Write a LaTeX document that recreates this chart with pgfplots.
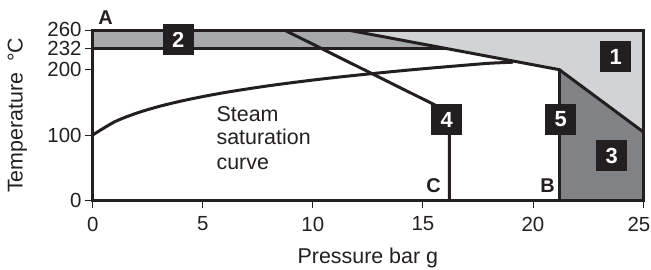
\documentclass[border=0pt]{standalone}
\usepackage{pgfplots}
\pgfplotsset{compat=1.18}
\usepackage{fontspec}
\setmainfont{Liberation Sans}
\definecolor{lg}{HTML}{D1D3D4}
\definecolor{mg}{HTML}{A7A9AC}
\definecolor{dg}{HTML}{808285}
\definecolor{ink}{HTML}{231F20}
\begin{document}
\begin{tikzpicture}[font=\fontsize{21.5}{25}\selectfont]
\useasboundingbox (-92.7bp,-69.7bp) rectangle (558.3bp,200.3bp);
\begin{axis}[
  at={(0,0)}, anchor=south west,
  scale only axis, width=550.3bp, height=169.8bp,
  xmin=0, xmax=25, ymin=0, ymax=260,
  xtick={0,5,10,15,20}, ytick={0,100,200,232},
  extra x ticks={25},
  extra x tick style={xticklabel style={xshift=-4bp}},
  extra y ticks={260},
  extra y tick style={yticklabel style={yshift=1.5bp}},
  tick pos=left, tick align=outside,
  major tick length=8bp,
  every tick/.style={ink, line width=0.8bp},
  axis line style={ink, line width=3bp},
  axis on top,
  clip=false,
  /pgf/number format/assume math mode=true,
  ticklabel style={font=\fontsize{20.5}{24}\selectfont, text=ink},
  xticklabel style={yshift=-5bp},
  yticklabel style={xshift=-2bp, inner ysep=0pt, inner xsep=1bp},
  xlabel={Pressure bar g},
  ylabel={Temperature\enspace°C},
  every axis x label/.style={at={([yshift=-63bp]axis description cs:0.5,0)}, anchor=base, text=ink},
  every axis y label/.style={at={([xshift=-70bp]axis description cs:0,0.5)}, rotate=90, anchor=base, text=ink},
]
% region 1
\addplot[fill=lg, draw=none] coordinates {(11.7,260) (25,260) (25,105) (21.2,200)} -- cycle;
% band 2
\addplot[fill=mg, draw=none] coordinates {(0,232) (0,260) (11.7,260) (16.1,232)} -- cycle;
% region 3
\addplot[fill=dg, draw=none] coordinates {(21.2,0) (21.2,200) (25,105) (25,0)} -- cycle;
% lines
\addplot[ink, line width=3bp] coordinates {(0,232) (16.1,232)};
\addplot[ink, line width=3bp, line join=miter] coordinates {(11.7,260) (21.2,200) (25,105)};
\addplot[ink, line width=3bp] coordinates {(21.2,0) (21.2,200)};
\addplot[ink, line width=3bp, line join=miter] coordinates {(8.75,260) (16.2,135) (16.2,0)};
% steam saturation curve
\addplot[ink, line width=3bp, smooth] coordinates {
 (0,100) (1,120.2) (2,133.5) (3,143.6) (4,151.8) (5,158.8) (6,165) (7,170.4)
 (8,175.4) (9,179.9) (10,184.1) (11,188) (12,191.6) (13,195) (14,198.3)
 (15,201.4) (16,204.3) (17,207.1) (18,209.8) (19.1,211.5)};
% labels
\node[anchor=base west, text=ink] at (axis cs:5.47,121.4) {Steam};
\node[anchor=base west, text=ink] at (axis cs:5.47,84.7) {saturation};
\node[anchor=base west, text=ink] at (axis cs:5.47,46.4) {curve};
\node[anchor=base, text=ink, font=\fontsize{20}{24}\selectfont\bfseries] at (axis cs:0.58,269.5) {A};
\node[anchor=base, text=ink, font=\fontsize{20}{24}\selectfont\bfseries] at (axis cs:15.49,12.7) {C};
\node[anchor=base, text=ink, font=\fontsize{20}{24}\selectfont\bfseries] at (axis cs:20.66,12.7) {B};
\tikzset{numbox/.style={fill=ink, text=white, minimum size=31bp, inner sep=0pt, font=\fontsize{22}{24}\selectfont\bfseries}}
\node[numbox] at (axis cs:23.76,220.2) {1};
\node[numbox] at (axis cs:3.88,245.5) {2};
\node[numbox] at (axis cs:23.58,68.6) {3};
\node[numbox] at (axis cs:16.08,123.7) {4};
\node[numbox] at (axis cs:21.26,123.7) {5};
\end{axis}
\end{tikzpicture}
\end{document}
